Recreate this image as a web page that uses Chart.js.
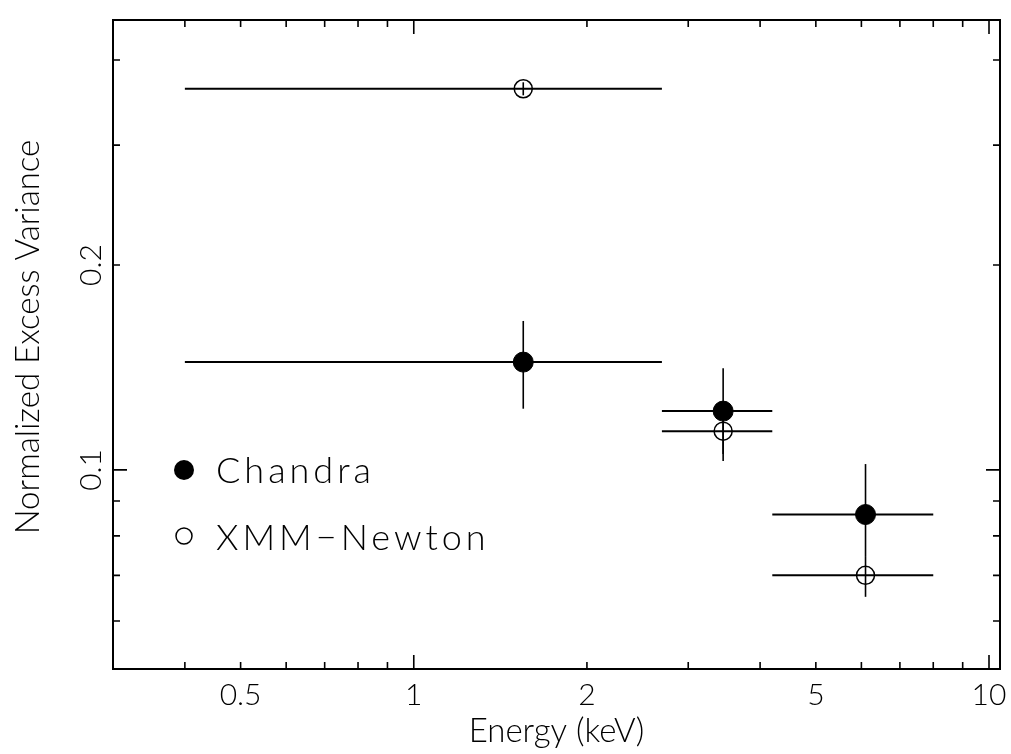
<!DOCTYPE html>
<html>
<head>
<meta charset="utf-8">
<script src="https://cdn.jsdelivr.net/npm/chart.js@4.4.1/dist/chart.umd.min.js"></script>
<style>
  body { margin: 0; background: #fff; }
  canvas { display: block; }
</style>
</head>
<body>
<canvas id="grafico" width="1011" height="754"></canvas>
<script>
// bins de energia (keV)
const energia = [1.55, 3.45, 6.1];
const energiaMin = [0.4, 2.7, 4.2];
const energiaMax = [2.7, 4.2, 8.0];

// Chandra
const chandraVar = [0.144, 0.122, 0.086];
const chandraMin = [0.123, 0.1055, 0.0745];
const chandraMax = [0.1655, 0.141, 0.102];

// XMM-Newton
const xmmVar = [0.363, 0.114, 0.070];
const xmmMin = [0.355, 0.1031, 0.0651];
const xmmMax = [0.371, 0.126, 0.0745];

// ticks
const xLabels = [0.5, 1, 2, 5, 10];
const xMajor = [1, 10];
const xMinor = [0.4, 0.5, 0.6, 0.7, 0.8, 0.9, 2, 3, 4, 5, 6, 7, 8, 9];
const yLabels = [0.1, 0.2];
const yMajor = [0.1];
const yMinor = [0.06, 0.07, 0.08, 0.09, 0.2, 0.3, 0.4];

const fonte = 'Lato, "DejaVu Sans", sans-serif';

function pontos(xs, ys) {
  return xs.map((x, i) => ({ x: x, y: ys[i] }));
}

// barras de erro desenhadas antes dos pontos
const barrasErro = {
  id: 'barrasErro',
  beforeDatasetsDraw(chart) {
    const { ctx, scales: { x, y } } = chart;
    const series = [
      [chandraVar, chandraMin, chandraMax],
      [xmmVar, xmmMin, xmmMax]
    ];
    ctx.save();
    ctx.strokeStyle = '#000';
    series.forEach(s => {
      for (let i = 0; i < energia.length; i++) {
        const py = y.getPixelForValue(s[0][i]);
        const px = x.getPixelForValue(energia[i]);
        ctx.lineWidth = 2;
        ctx.beginPath();
        ctx.moveTo(x.getPixelForValue(energiaMin[i]), py);
        ctx.lineTo(x.getPixelForValue(energiaMax[i]), py);
        ctx.stroke();
        ctx.lineWidth = 1.6;
        ctx.beginPath();
        ctx.moveTo(px, y.getPixelForValue(s[1][i]));
        ctx.lineTo(px, y.getPixelForValue(s[2][i]));
        ctx.stroke();
      }
    });
    ctx.restore();
  }
};

// moldura, ticks para dentro, rótulos e legenda
const moldura = {
  id: 'moldura',
  afterDraw(chart) {
    const { ctx, chartArea: a, scales: { x, y } } = chart;
    ctx.save();
    ctx.strokeStyle = '#000';
    ctx.fillStyle = '#000';
    ctx.lineWidth = 2;
    ctx.strokeRect(a.left, a.top, a.right - a.left, a.bottom - a.top);

    ctx.lineWidth = 1.6;
    const tickX = (v, len) => {
      const px = x.getPixelForValue(v);
      ctx.beginPath();
      ctx.moveTo(px, a.bottom); ctx.lineTo(px, a.bottom - len);
      ctx.moveTo(px, a.top); ctx.lineTo(px, a.top + len);
      ctx.stroke();
    };
    const tickY = (v, len) => {
      const py = y.getPixelForValue(v);
      ctx.beginPath();
      ctx.moveTo(a.left, py); ctx.lineTo(a.left + len, py);
      ctx.moveTo(a.right, py); ctx.lineTo(a.right - len, py);
      ctx.stroke();
    };
    xMajor.forEach(v => tickX(v, 14));
    xMinor.forEach(v => tickX(v, 7));
    yMajor.forEach(v => tickY(v, 14));
    yMinor.forEach(v => tickY(v, 7));

    // rótulos do eixo x
    ctx.font = '300 30px ' + fonte;
    ctx.textAlign = 'center';
    ctx.textBaseline = 'alphabetic';
    xLabels.forEach(v => ctx.fillText(String(v), x.getPixelForValue(v), 705));

    // rótulos do eixo y (girados)
    yLabels.forEach(v => {
      ctx.save();
      ctx.translate(101, y.getPixelForValue(v));
      ctx.rotate(-Math.PI / 2);
      ctx.fillText(String(v), 0, 0);
      ctx.restore();
    });

    // títulos
    ctx.font = '300 33px ' + fonte;
    ctx.fillText('Energy (keV)', (a.left + a.right) / 2, 742);
    ctx.save();
    ctx.translate(39, 337);
    ctx.rotate(-Math.PI / 2);
    ctx.fillText('Normalized Excess Variance', 0, 0);
    ctx.restore();

    // legenda
    ctx.beginPath();
    ctx.arc(184, 470, 10, 0, Math.PI * 2);
    ctx.fill();
    ctx.lineWidth = 1.5;
    ctx.beginPath();
    ctx.arc(184, 536, 8, 0, Math.PI * 2);
    ctx.stroke();
    ctx.font = '300 36px ' + fonte;
    ctx.textAlign = 'left';
    ctx.textBaseline = 'middle';
    ctx.letterSpacing = '4px';
    ctx.fillText('Chandra', 216, 471);
    ctx.fillText('XMM\u2212Newton', 216, 538);
    ctx.restore();
  }
};

new Chart(document.getElementById('grafico'), {
  type: 'scatter',
  data: {
    datasets: [{
      label: 'Chandra',
      data: pontos(energia, chandraVar),
      pointRadius: 10,
      pointBackgroundColor: '#000',
      pointBorderColor: '#000',
      pointBorderWidth: 1
    }, {
      label: 'XMM-Newton',
      data: pontos(energia, xmmVar),
      pointRadius: 9,
      pointBackgroundColor: 'rgba(0,0,0,0)',
      pointBorderColor: '#000',
      pointBorderWidth: 1.5
    }]
  },
  options: {
    responsive: false,
    animation: false,
    layout: { padding: { top: 20, right: 6, left: 0, bottom: 0 } },
    scales: {
      x: {
        type: 'logarithmic',
        min: 0.3,
        max: 10.45,
        grid: { display: false },
        border: { display: false },
        ticks: { display: false },
        afterFit: s => { s.height = 85; }
      },
      y: {
        type: 'logarithmic',
        min: 0.051,
        max: 0.458,
        grid: { display: false },
        border: { display: false },
        ticks: { display: false },
        afterFit: s => { s.width = 113; }
      }
    },
    plugins: {
      legend: { display: false },
      tooltip: { enabled: false }
    }
  },
  plugins: [barrasErro, moldura]
});
</script>
</body>
</html>
